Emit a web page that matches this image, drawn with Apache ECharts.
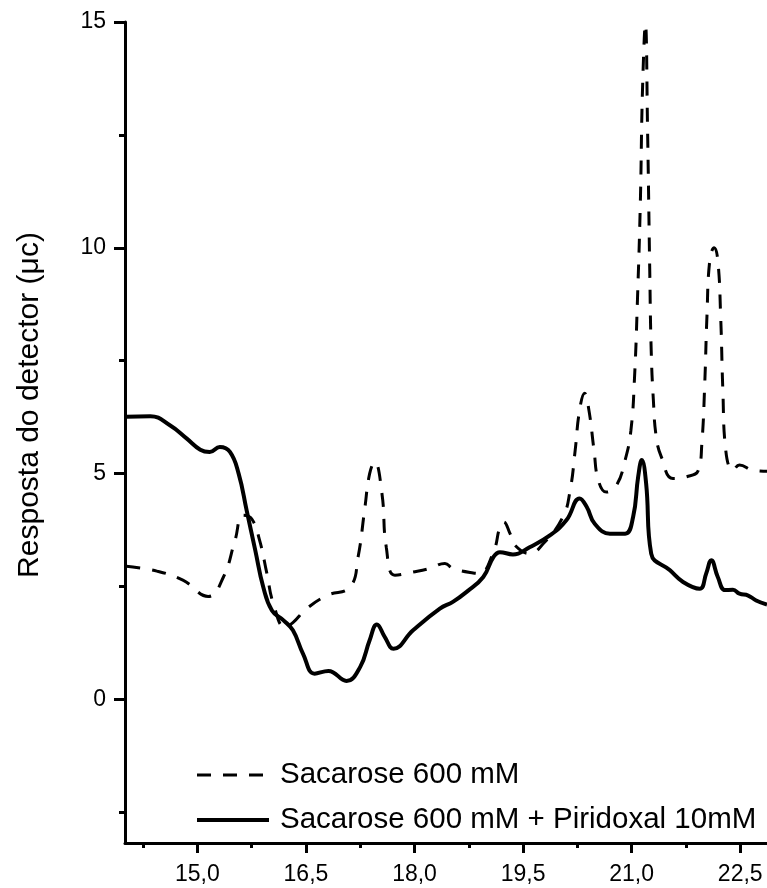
<!DOCTYPE html>
<html>
<head>
<meta charset="utf-8">
<script src="https://cdn.jsdelivr.net/npm/echarts@6/dist/echarts.min.js"></script>
<style>html,body{margin:0;padding:0;background:#fff;}#chart{width:767px;height:888px;}</style>
</head>
<body>
<div id="chart"></div>
<script>
// Series 1: Sacarose 600 mM (dashed)
const sacX = [14.02, 14.44, 14.8, 15.15, 15.36, 15.52, 15.63, 15.75, 15.86, 15.96, 16.05, 16.21, 16.32, 16.51, 16.79, 17.11, 17.22, 17.31, 17.38, 17.45, 17.55, 17.61, 17.73, 17.98, 18.21, 18.42, 18.53, 18.81, 18.9, 19.09, 19.18, 19.23, 19.32, 19.39, 19.59, 19.78, 20.05, 20.15, 20.22, 20.28, 20.35, 20.41, 20.48, 20.54, 20.65, 20.79, 20.91, 20.99, 21.04, 21.08, 21.12, 21.15, 21.19, 21.22, 21.25, 21.27, 21.3, 21.34, 21.41, 21.57, 21.76, 21.92, 21.97, 22.01, 22.04, 22.08, 22.14, 22.19, 22.23, 22.26, 22.3, 22.4, 22.49, 22.68, 22.87];
const sacY = [2.95, 2.84, 2.64, 2.28, 2.71, 3.52, 4.08, 4.0, 3.52, 2.79, 2.12, 1.6, 1.7, 2.01, 2.3, 2.49, 3.15, 4.19, 5.0, 5.26, 4.56, 3.37, 2.75, 2.82, 2.9, 3.01, 2.9, 2.8, 2.79, 3.26, 3.82, 3.93, 3.67, 3.41, 3.23, 3.45, 4.04, 4.63, 5.52, 6.4, 6.78, 6.4, 5.52, 4.85, 4.59, 4.74, 5.3, 5.96, 7.14, 8.84, 11.0, 13.5, 14.95, 12.6, 9.5, 7.73, 6.63, 5.81, 5.37, 4.89, 4.93, 5.07, 5.67, 7.0, 8.47, 9.73, 10.0, 9.73, 8.47, 6.85, 5.52, 5.07, 5.19, 5.07, 5.05];

// Series 2: Sacarose 600 mM + Piridoxal 10mM (solid)
const pirX = [14.02, 14.35, 14.62, 14.85, 15.04, 15.17, 15.31, 15.45, 15.57, 15.68, 15.8, 15.91, 16.03, 16.19, 16.32, 16.46, 16.62, 16.81, 17.06, 17.25, 17.38, 17.48, 17.59, 17.71, 17.98, 18.35, 18.53, 18.72, 18.95, 19.09, 19.18, 19.36, 19.59, 19.87, 20.1, 20.28, 20.38, 20.49, 20.7, 20.91, 21.02, 21.09, 21.14, 21.2, 21.27, 21.53, 21.71, 21.94, 22.03, 22.1, 22.19, 22.29, 22.4, 22.49, 22.61, 22.72, 22.87];
const pirY = [6.26, 6.27, 6.07, 5.78, 5.53, 5.48, 5.59, 5.48, 5.0, 4.19, 3.3, 2.49, 1.97, 1.75, 1.53, 1.01, 0.57, 0.63, 0.41, 0.72, 1.31, 1.66, 1.38, 1.12, 1.53, 2.01, 2.16, 2.38, 2.71, 3.15, 3.26, 3.21, 3.37, 3.63, 3.97, 4.45, 4.26, 3.89, 3.67, 3.67, 4.04, 4.93, 5.3, 4.78, 3.23, 2.86, 2.6, 2.45, 2.79, 3.08, 2.71, 2.42, 2.43, 2.34, 2.3, 2.19, 2.1];

const seriesNames = ['Sacarose 600 mM', 'Sacarose 600 mM + Piridoxal 10mM'];
const xMajorTicks = [15.0, 16.5, 18.0, 19.5, 21.0, 22.5];
const xMinorTicks = [14.25, 15.75, 17.25, 18.75, 20.25, 21.75];
const yMajorTicks = [0, 5, 10, 15];
const yMinorTicks = [-2.5, 2.5, 7.5, 12.5];
const yAxisTitle = 'Resposta do detector (\u03bcc)';

const FONT = '"Liberation Sans", Arial, Helvetica, sans-serif';
const zip = (xs, ys) => xs.map((x, i) => [x, ys[i]]);
const X_MIN = 14.0, X_MAX = 22.87, Y_MIN = -3.18, Y_MAX = 15;
const dashStyle = {color: '#000', width: 3, type: [14, 12]};
const solidStyle = {color: '#000', width: 4, type: 'solid'};

const chart = echarts.init(document.getElementById('chart'), null, {renderer: 'canvas'});
const axisLineStyle = {color: '#000', width: 3};
chart.setOption({
  animation: false,
  backgroundColor: '#fff',
  grid: {left: 125, right: 0, top: 22, bottom: 45, containLabel: false},
  legend: {
    orient: 'vertical',
    left: 190,
    top: 755,
    padding: 5,
    itemWidth: 72,
    itemHeight: 30,
    itemGap: 15,
    data: [
      {name: seriesNames[0], lineStyle: {width: 3, type: [14, 12], color: '#000'}, itemStyle: {opacity: 0}},
      {name: seriesNames[1], lineStyle: {width: 4, type: 'solid', color: '#000'}, itemStyle: {opacity: 0}}
    ],
    itemStyle: {opacity: 0},
    textStyle: {fontFamily: FONT, fontSize: 29.5, color: '#000', padding: [0, 0, 0, 6]}
  },
  xAxis: [{
    type: 'value', min: X_MIN, max: X_MAX, position: 'bottom',
    axisLine: {show: true, onZero: false, lineStyle: axisLineStyle},
    axisTick: {show: true, length: 10, lineStyle: {color: '#000', width: 3}, customValues: xMajorTicks},
    axisLabel: {show: true, margin: 20, fontFamily: FONT, fontSize: 23, color: '#000',
      customValues: xMajorTicks, formatter: v => v.toFixed(1).replace('.', ',')},
    splitLine: {show: false}
  }, {
    type: 'value', min: X_MIN, max: X_MAX, position: 'bottom',
    axisLine: {show: false, onZero: false},
    axisTick: {show: true, length: 5, lineStyle: {color: '#000', width: 3}, customValues: xMinorTicks},
    axisLabel: {show: false},
    splitLine: {show: false}
  }],
  yAxis: [{
    type: 'value', min: Y_MIN, max: Y_MAX, position: 'left',
    axisLine: {show: true, onZero: false, lineStyle: axisLineStyle},
    axisTick: {show: true, length: 11, lineStyle: {color: '#000', width: 3}, customValues: yMajorTicks},
    axisLabel: {show: true, margin: 19, fontFamily: FONT, fontSize: 23, color: '#000', customValues: yMajorTicks},
    splitLine: {show: false}
  }, {
    type: 'value', min: Y_MIN, max: Y_MAX, position: 'left',
    axisLine: {show: false, onZero: false},
    axisTick: {show: true, length: 6, lineStyle: {color: '#000', width: 3}, customValues: yMinorTicks},
    axisLabel: {show: false},
    splitLine: {show: false}
  }],
  graphic: [{
    type: 'text',
    x: 30, y: 405,
    rotation: Math.PI / 2,
    style: {text: yAxisTitle, fontFamily: FONT, fontSize: 30, fill: '#000', align: 'center', verticalAlign: 'middle'}
  }],
  series: [{
    name: seriesNames[0], type: 'line', xAxisIndex: 0, yAxisIndex: 0,
    data: zip(sacX, sacY), symbol: 'none', smooth: 0.45,
    lineStyle: dashStyle,
    itemStyle: {color: '#000'}
  }, {
    name: seriesNames[1], type: 'line', xAxisIndex: 0, yAxisIndex: 0,
    data: zip(pirX, pirY), symbol: 'none', smooth: 0.45,
    lineStyle: solidStyle,
    itemStyle: {color: '#000'}
  }]
});
</script>
</body>
</html>
